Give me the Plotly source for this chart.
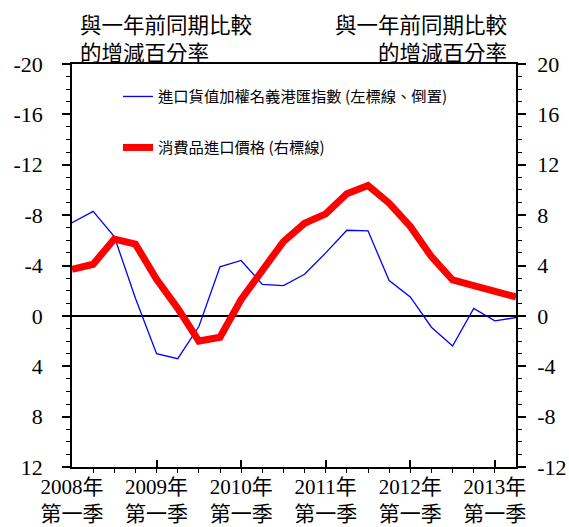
import plotly.graph_objects as go

quarters = list(range(22))  # 2008Q1 .. 2013Q2
hkd_index = [-7.4, -8.3, -6.3, -1.4, 3.0, 3.4, 0.85, -3.9, -4.4, -2.5, -2.4, -3.3,
             -5.0, -6.8, -6.75, -2.8, -1.5, 0.9, 2.4, -0.6, 0.4, 0.13]
import_price = [3.7, 4.1, 6.1, 5.7, 2.9, 0.6, -2.0, -1.7, 1.3, 3.65, 5.9, 7.35,
                8.1, 9.7, 10.35, 8.95, 7.1, 4.7, 2.85, 2.4, 2.0, 1.5]
tick_pos = [0, 4, 8, 12, 16, 20]
tick_text = ["2008年<br>第一季", "2009年<br>第一季", "2010年<br>第一季",
             "2011年<br>第一季", "2012年<br>第一季", "2013年<br>第一季"]
left_ticks = [-20, -16, -12, -8, -4, 0, 4, 8, 12]
right_ticks = [20, 16, 12, 8, 4, 0, -4, -8, -12]
name_blue = "進口貨值加權名義港匯指數 (左標線、倒置)"
name_red = "消費品進口價格 (右標線)"
axis_title = "與一年前同期比較"
axis_title2 = "的增減百分率"

W, H = 569, 527
L, R, T, B = 72, 516, 64, 467
FONT = "Liberation Serif, Times New Roman, Noto Sans CJK TC, serif"
CJK = "Noto Sans CJK TC, sans-serif"

def px(x):
    return (x - L) / (R - L)

def py(y):
    return (B - y) / (B - T)

fig = go.Figure()
fig.add_trace(go.Scatter(x=quarters, y=hkd_index, mode="lines", name=name_blue,
                         line=dict(color="#0000ff", width=1.3), yaxis="y", legend="legend"))
fig.add_trace(go.Scatter(x=quarters, y=import_price, mode="lines", name=name_red,
                         line=dict(color="#ff0000", width=7), yaxis="y2", legend="legend2"))

axcommon = dict(showline=True, linecolor="black", linewidth=1.5, showgrid=False, automargin=False,
                tickfont=dict(family=FONT, size=22, color="black"),
                ticks="outside", ticklen=8, tickwidth=1.5, tickcolor="black")

fig.update_layout(
    width=W, height=H,
    margin=dict(l=L, r=W - R, t=T, b=H - B, pad=0, autoexpand=False),
    paper_bgcolor="white", plot_bgcolor="white",
    xaxis=dict(range=[0, 21], tickvals=tick_pos, ticktext=tick_text, mirror=True, automargin=False,
               showline=True, linecolor="black", linewidth=1.5, showgrid=False, zeroline=False,
               ticks="inside", ticklen=7, tickwidth=1.5, tickcolor="black", ticklabelstandoff=0,
               tickfont=dict(family=FONT, size=21, color="black"),
               minor=dict(dtick=1, ticks="outside", ticklen=4, tickcolor="black", tickwidth=1)),
    yaxis=dict(range=[12, -20], tickvals=left_ticks, ticktext=[str(v) for v in left_ticks],
               zeroline=True, zerolinecolor="black", zerolinewidth=1.5,
               minor=dict(dtick=1, ticks="outside", ticklen=4, tickcolor="black", tickwidth=1),
               ticklabelstandoff=15, **axcommon),
    yaxis2=dict(range=[-12, 20], tickvals=right_ticks, ticktext=[str(v) for v in right_ticks],
                overlaying="y", side="right", zeroline=False,
                minor=dict(dtick=1, ticks="outside", ticklen=4, tickcolor="black", tickwidth=1),
                ticklabelstandoff=7, **axcommon),
    legend=dict(x=px(118), y=py(80), xanchor="left", yanchor="top", bgcolor="rgba(0,0,0,0)",
                font=dict(family=CJK, size=15.3, color="black"), itemwidth=30),
    legend2=dict(x=px(118), y=py(131), xanchor="left", yanchor="top", bgcolor="rgba(0,0,0,0)",
                 font=dict(family=CJK, size=15.3, color="black"), itemwidth=30),
    showlegend=True,
)

ann = [
    (78, 23, "left", axis_title), (78, 51, "left", axis_title2),
    (509, 23, "right", axis_title), (509, 51, "right", axis_title2),
]
for x, y, anc, txt in ann:
    fig.add_annotation(x=px(x), y=py(y), xref="paper", yref="paper", text=txt,
                       showarrow=False, xanchor=anc, yanchor="middle",
                       font=dict(family=CJK, size=21.5, color="black"))

fig.write_html("out.html", config={"displayModeBar": False},
               post_script="document.body.style.margin='0';")
